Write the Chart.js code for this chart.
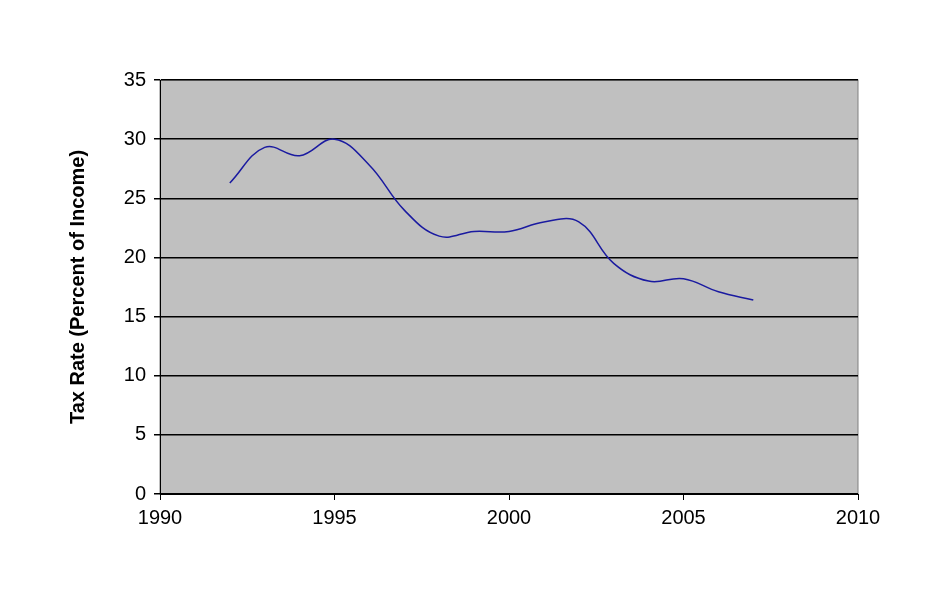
<!DOCTYPE html>
<html>
<head>
<meta charset="utf-8">
<script src="https://cdn.jsdelivr.net/npm/chart.js@4/dist/chart.umd.min.js"></script>
<style>
  body { margin: 0; background: #fff; }
  #wrap { width: 948px; height: 615px; }
</style>
</head>
<body>
<div id="wrap"><canvas id="myChart" width="948" height="615"></canvas></div>
<script>
const years = [1992, 1993, 1994, 1995, 1996, 1997, 1998, 1999, 2000, 2001, 2002, 2003, 2004, 2005, 2006, 2007]
const taxRate = [26.3, 29.3, 28.6, 30.0, 27.8, 24.0, 21.8, 22.2, 22.2, 23.0, 23.0, 19.5, 18.0, 18.2, 17.1, 16.4]

// gray plot background like the old spreadsheet chart
const plotBg = {
    id: 'plotBg',
    beforeDraw: (chart) => {
        const { ctx, chartArea: a } = chart
        ctx.save()
        ctx.fillStyle = '#c0c0c0'
        ctx.fillRect(a.left, a.top, a.right - a.left, a.bottom - a.top)
        ctx.strokeStyle = '#808080'
        ctx.lineWidth = 1
        ctx.strokeRect(a.left, a.top, a.right - a.left, a.bottom - a.top)
        ctx.restore()
    }
}

const font = { family: 'Liberation Sans, Arial, sans-serif', size: 20 }

const config = {
    type: 'line',
    data: {
        datasets: [{
            data: years.map((y, i) => ({ x: y, y: taxRate[i] })),
            borderColor: '#1a1aa0',
            borderWidth: 1.5,
            pointRadius: 0,
            tension: 0.4,
            fill: false
        }]
    },
    options: {
        responsive: false,
        animation: false,
        layout: { padding: { top: 80, right: 90, left: 62, bottom: 0 } },
        plugins: { legend: { display: false }, tooltip: { enabled: false } },
        scales: {
            x: {
                type: 'linear',
                min: 1990, max: 2010,
                ticks: { stepSize: 5, color: '#000', font: font, padding: 6, callback: (v) => String(v) },
                grid: { drawOnChartArea: false, color: '#000', tickLength: 6 },
                border: { color: '#000' },
                afterFit: (s) => { s.height = 121 }
            },
            y: {
                min: 0, max: 35,
                ticks: { stepSize: 5, color: '#000', font: font, padding: 8 },
                grid: { color: '#000', tickLength: 6, lineWidth: 1.5 },
                border: { color: '#000' },
                title: { display: true, text: 'Tax Rate (Percent of Income)', color: '#000',
                    font: { family: font.family, size: 20, weight: 'bold' } },
                afterFit: (s) => { s.width = 98 }
            }
        }
    },
    plugins: [plotBg]
}
new Chart(document.getElementById('myChart'), config)
</script>
</body>
</html>
